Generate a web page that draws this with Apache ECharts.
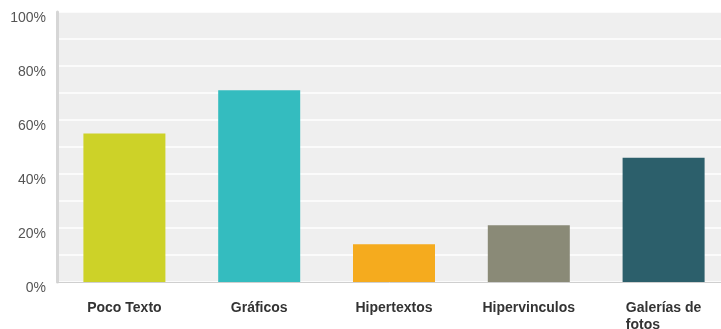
<!DOCTYPE html>
<html>
<head>
<meta charset="utf-8">
<script src="https://cdn.jsdelivr.net/npm/echarts@6/dist/echarts.min.js"></script>
<style>
  html, body { margin: 0; padding: 0; background: #ffffff; }
  #chart { width: 721px; height: 329px; }
</style>
</head>
<body>
<div id="chart"></div>
<script>
// Survey shares by content type (percent)
const categories = ['Poco Texto', 'Gráficos', 'Hipertextos', 'Hipervinculos', 'Galerías de fotos'];
const values = [55, 71, 14, 21, 46];
const barColors = ['#cdd228', '#34bcbf', '#f5ab1e', '#8a8a77', '#2c5f6b'];
const yTicks = [0, 20, 40, 60, 80, 100];

const chart = echarts.init(document.getElementById('chart'), null, { renderer: 'canvas' });

const labelFont = {
  fontFamily: 'Liberation Sans, Arial, sans-serif',
  fontSize: 14,
  fontWeight: 'bold',
  color: '#333333',
  lineHeight: 17
};

chart.setOption({
  animation: false,
  backgroundColor: '#ffffff',
  grid: {
    left: 57,
    width: 674,
    top: 12,
    height: 270,
    outerBoundsMode: 'none',
    containLabel: false,
    show: true,
    backgroundColor: '#efefef',
    borderWidth: 0
  },
  xAxis: {
    type: 'category',
    data: categories,
    axisTick: { show: false },
    axisLine: { show: true, lineStyle: { color: '#cfcfcf', width: 1 } },
    axisLabel: {
      interval: 0,
      margin: 18,
      ...labelFont,
      formatter: function (v) {
        if (v === 'Galerías de fotos') {
          return '{b|Galerías de}\n{l|fotos}';
        }
        return '{b|' + v + '}';
      },
      rich: {
        b: { ...labelFont },
        l: { ...labelFont, align: 'left' }
      }
    },
    splitLine: { show: false }
  },
  yAxis: {
    type: 'value',
    min: yTicks[0],
    max: yTicks[yTicks.length - 1],
    interval: 20,
    axisLine: { show: true, lineStyle: { color: '#d6d6d6', width: 3 } },
    axisTick: { show: false },
    axisLabel: {
      margin: 11,
      fontFamily: 'Liberation Sans, Arial, sans-serif',
      fontSize: 14,
      lineHeight: 12,
      verticalAlign: 'top',
      color: '#555555',
      formatter: '{value}%'
    },
    splitLine: { show: true, lineStyle: { color: '#ffffff', width: 1.5 } },
    minorTick: { show: false, splitNumber: 2 },
    minorSplitLine: { show: true, lineStyle: { color: '#ffffff', width: 1.5 } }
  },
  series: [{
    type: 'bar',
    data: values.map((v, i) => ({ value: v, itemStyle: { color: barColors[i] } })),
    barWidth: 82
  }]
});
</script>
</body>
</html>
